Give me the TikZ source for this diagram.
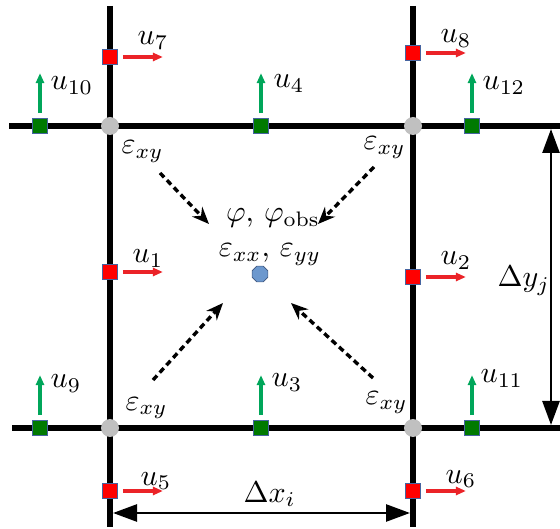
\documentclass[tikz,border=0pt]{standalone}
\usetikzlibrary{arrows.meta,shapes.geometric}
\definecolor{sqred}{RGB}{255,0,0}
\definecolor{arrred}{RGB}{235,35,40}
\definecolor{sqgreen}{RGB}{0,122,0}
\definecolor{arrgreen}{RGB}{0,166,90}
\definecolor{sqborder}{RGB}{70,100,160}
\definecolor{nodegray}{RGB}{192,192,192}
\definecolor{octblue}{RGB}{108,152,206}
\definecolor{octborder}{RGB}{60,85,125}
\begin{document}
\begin{tikzpicture}[x=1pt,y=-1pt,
  gridline/.style={line width=5.5pt},
  corner/.style={circle, fill=nodegray, minimum size=18pt, inner sep=0pt},
  redsq/.style={rectangle, fill=sqred, draw=sqborder, line width=0.8pt, minimum size=15pt, inner sep=0pt},
  greensq/.style={rectangle, fill=sqgreen, draw=sqborder, line width=0.8pt, minimum size=15pt, inner sep=0pt},
  redarr/.style={draw=arrred, line width=3.2pt, -{Triangle[length=10pt,width=8pt]}},
  greenarr/.style={draw=arrgreen, line width=3.2pt, -{Triangle[length=10pt,width=8pt]}},
  lbl/.style={scale=3, inner sep=0pt, anchor=base west},
  clbl/.style={scale=3, inner sep=0pt, anchor=base},
  dasharr/.style={line width=3.4pt, dash pattern=on 6pt off 4pt, -{Stealth[length=17pt,width=14pt]}},
  dimarr/.style={line width=2.6pt, {Triangle[length=24pt,width=17pt]}-{Triangle[length=24pt,width=17pt]}},
  octa/.style={regular polygon, regular polygon sides=8, minimum size=17pt, inner sep=0pt, fill=octblue, draw=octborder, line width=0.6pt}
]
\useasboundingbox (0,0) rectangle (560,529);

% grid line ends
\coordinate (vl1t) at (110,6);   \coordinate (vl1b) at (110,527);
\coordinate (vl2t) at (413,6);   \coordinate (vl2b) at (413,527);
\coordinate (hl1l) at (9,126);   \coordinate (hl1r) at (560,126);
\coordinate (hl2l) at (12,428);  \coordinate (hl2r) at (560,428);
\draw[gridline] (vl1t) -- (vl1b);
\draw[gridline] (vl2t) -- (vl2b);
\draw[gridline] (hl1l) -- (hl1r);
\draw[gridline] (hl2l) -- (hl2r);

% corners
\node[corner] (c1) at (110,126) {};
\node[corner] (c2) at (413,126) {};
\node[corner] (c3) at (110,428) {};
\node[corner] (c4) at (413,428) {};

% red squares
\node[redsq] (s7) at (110,57) {};
\node[redsq] (s8) at (413,53) {};
\node[redsq] (s1) at (110,272) {};
\node[redsq] (s2) at (413,277) {};
\node[redsq] (s5) at (110,491) {};
\node[redsq] (s6) at (413,491) {};
% green squares
\node[greensq] (s10) at (40,126) {};
\node[greensq] (s4) at (261,126) {};
\node[greensq] (s12) at (472,126) {};
\node[greensq] (s9) at (40,428) {};
\node[greensq] (s3) at (261,428) {};
\node[greensq] (s11) at (472,428) {};

% red arrows
\foreach \s in {s7,s8,s1,s2,s5,s6}
  \draw[redarr] ([xshift=5pt]\s.east) -- ++(40,0);
% green arrows
\foreach \s in {s10,s4,s12,s9,s3,s11}
  \draw[greenarr] ([yshift=5pt]\s.north) -- ++(0,-40);

% u labels
\node[lbl] (l7) at (137,45) {$u_7$};
\node[lbl] (l8) at (440,43) {$u_8$};
\node[lbl] (l10) at (50,90) {$u_{10}$};
\node[lbl] (l4) at (273,88) {$u_4$};
\node[lbl] (l12) at (482,90) {$u_{12}$};
\node[lbl] (l1) at (132,263) {$u_1$};
\node[lbl] (l2) at (440,265) {$u_2$};
\node[lbl] (l9) at (50,388) {$u_9$};
\node[lbl] (l3) at (271,387) {$u_3$};
\node[lbl] (l11) at (480,383) {$u_{11}$};
\node[lbl] (l5) at (140,485) {$u_5$};
\node[lbl] (l6) at (445,483) {$u_6$};

% epsilon_xy labels
\node[lbl] (e1) at (121,154) {$\varepsilon_{xy}$};
\node[lbl] (e2) at (363,150) {$\varepsilon_{xy}$};
\node[lbl] (e3) at (125,410) {$\varepsilon_{xy}$};
\node[lbl] (e4) at (365,405) {$\varepsilon_{xy}$};

% center
\node[clbl] (phi) at (273,222) {$\varphi$, $\varphi_{\mathrm{obs}}$};
\node[clbl] (eps) at (270,257) {$\varepsilon_{xx}$, $\varepsilon_{yy}$};
\node[octa] (ctr) at (260,274) {};

% dashed arrows
\coordinate (d1s) at (160,173); \coordinate (d1e) at (209,224);
\coordinate (d2s) at (374,167); \coordinate (d2e) at (318,224);
\coordinate (d3s) at (153,380); \coordinate (d3e) at (223,303);
\coordinate (d4s) at (373,378); \coordinate (d4e) at (291,303);
\draw[dasharr] (d1s) -- (d1e);
\draw[dasharr] (d2s) -- (d2e);
\draw[dasharr] (d3s) -- (d3e);
\draw[dasharr] (d4s) -- (d4e);

% dimensions
\coordinate (dyt) at (551,129); \coordinate (dyb) at (551,425);
\draw[dimarr] (dyt) -- (dyb);
\node[lbl] (dy) at (497,287) {$\Delta y_j$};
\coordinate (dxl) at (113,513); \coordinate (dxr) at (410,513);
\draw[dimarr] (dxl) -- (dxr);
\node[lbl] (dx) at (243,502) {$\Delta x_i$};
\end{tikzpicture}
\end{document}
